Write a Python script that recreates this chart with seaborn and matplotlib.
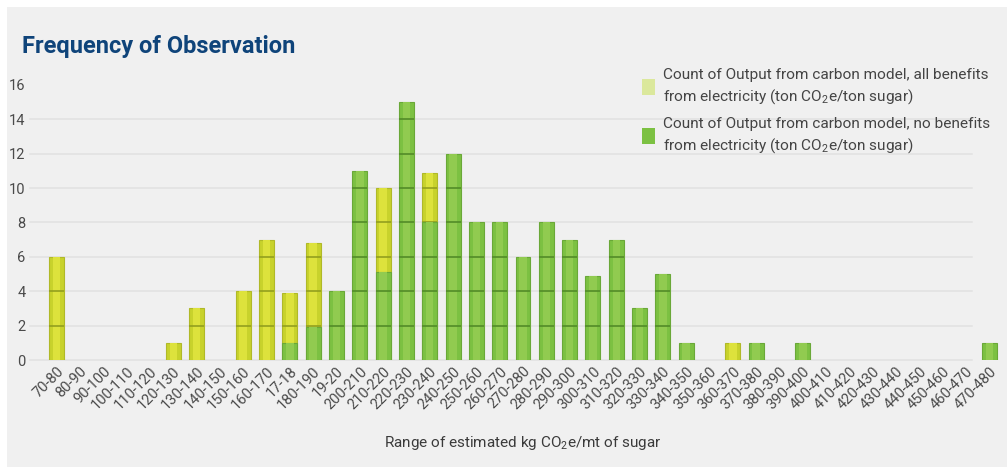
import matplotlib
matplotlib.use("Agg")
import matplotlib.pyplot as plt
from matplotlib.patches import Patch, Rectangle
import seaborn as sns
import pandas as pd

# bins of the x axis, as labelled in the source chart
categories = [
    "70-80", "80-90", "90-100", "100-110", "110-120", "120-130", "130-140",
    "140-150", "150-160", "160-170", "17-18", "180-190", "19-20", "200-210",
    "210-220", "220-230", "230-240", "240-250", "250-260", "260-270",
    "270-280", "280-290", "290-300", "300-310", "310-320", "320-330",
    "330-340", "340-350", "350-360", "360-370", "370-380", "380-390",
    "390-400", "400-410", "410-420", "420-430", "430-440", "440-450",
    "450-460", "460-470", "470-480",
]
# counts, all benefits from electricity (only the visible part of the yellow bars)
all_benefits = [
    6, 0, 0, 0, 0, 1, 3, 0, 4, 7, 3.9, 6.8, 0, 0, 10, 0, 10.9, 0, 0, 0,
    0, 0, 0, 0, 0, 0, 0, 0, 0, 1, 0, 0, 0, 0, 0, 0, 0, 0, 0, 0, 0,
]
# counts, no benefits from electricity
no_benefits = [
    0, 0, 0, 0, 0, 0, 0, 0, 0, 0, 1, 1.9, 4, 11, 5.1, 15, 8, 12, 8, 8,
    6, 8, 7, 4.9, 7, 3, 5, 1, 0, 0, 1, 0, 1, 0, 0, 0, 0, 0, 0, 0, 1,
]
y_ticks = [0, 2, 4, 6, 8, 10, 12, 14, 16]

label_all = ("Count of Output from carbon model, all benefits\n"
             "from electricity (ton CO$_2$e/ton sugar)")
label_none = ("Count of Output from carbon model, no benefits\n"
              "from electricity (ton CO$_2$e/ton sugar)")

df = pd.DataFrame({"range": categories, "all": all_benefits, "none": no_benefits})

sns.set_style("white")
plt.rcParams["font.family"] = ["Roboto", "DejaVu Sans"]
plt.rcParams["mathtext.fontset"] = "custom"
plt.rcParams["mathtext.rm"] = "Roboto"

BG = "#f0f0f0"
YELLOW = "#c8d22c"
YELLOW_LIGHT = "#dde23c"
GREEN = "#7cc142"
GREEN_LIGHT = "#91cb50"

fig = plt.figure(figsize=(10.07, 4.67), dpi=100)
fig.patch.set_facecolor("white")
fig.patches.append(Rectangle((7 / 1007, 0), 1, 1 - 7 / 467, transform=fig.transFigure,
                             facecolor=BG, edgecolor="none", zorder=-10))

ax = fig.add_axes([45 / 1007, 107 / 467, 956 / 1007, 16.3 * 17.19 / 467])
ax.set_facecolor("none")

sns.barplot(data=df, x="range", y="all", color=YELLOW, width=0.64, saturation=1,
            edgecolor="#b0b928", linewidth=0.8, ax=ax, zorder=2)
n_yellow = len(ax.patches)
sns.barplot(data=df, x="range", y="none", color=GREEN, width=0.64, saturation=1,
            edgecolor="#6aa838", linewidth=0.8, ax=ax, zorder=3)

# sugar-cane look: lighter core and a dark node every 2 units
for i, p in enumerate(ax.patches):
    h = p.get_height()
    if h <= 0:
        p.set_visible(False)
        continue
    x0, w = p.get_x(), p.get_width()
    light = YELLOW_LIGHT if i < n_yellow else GREEN_LIGHT
    node = "#939f1e" if i < n_yellow else "#528c28"
    z = p.get_zorder()
    ax.add_patch(Rectangle((x0 + w * 0.25, 0), w * 0.5, h, facecolor=light,
                           edgecolor="none", zorder=z + 0.1))
    level = 2
    while level < h - 0.15:
        ax.plot([x0, x0 + w], [level, level], color=node, lw=1.2, zorder=z + 0.2,
                solid_capstyle="butt")
        level += 2

ax.set_xlim(-0.5, len(categories) - 0.5)
ax.set_ylim(0, 16.3)
ax.set_yticks(y_ticks)
for t in y_ticks[:-1]:
    ax.axhline(t, xmin=-0.016, xmax=0.97, color="#e4e4e4", lw=1.4, zorder=0,
               clip_on=False)

ax.tick_params(axis="both", length=0, colors="#4a4a4a")
ax.tick_params(axis="y", labelsize=10.5, pad=14)
ax.tick_params(axis="x", labelsize=10.5, pad=3)
plt.setp(ax.get_xticklabels(), rotation=45, ha="right", va="top",
         rotation_mode="anchor")
for s in ax.spines.values():
    s.set_visible(False)

ax.set_ylabel("")
ax.set_xlabel("Range of estimated kg CO$_2$e/mt of sugar", fontsize=11,
              color="#3a3a3a", labelpad=16)

fig.text(22 / 1007, 1 - 46 / 467, "Frequency of Observation", fontsize=17,
         fontweight="bold", color="#0f447a", va="center", ha="left")

handles = [Patch(facecolor="#dbe89c", edgecolor="none", label=label_all),
           Patch(facecolor="#7cc142", edgecolor="none", label=label_none)]
leg = fig.legend(handles=handles, loc="upper left",
                 bbox_to_anchor=(634 / 1007, 1 - 60 / 467),
                 frameon=False, fontsize=11.1, labelcolor="#444444", handlelength=0.85,
                 handleheight=1.2, handletextpad=0.5, labelspacing=0.7, borderpad=0)
for txt in leg.get_texts():
    txt.set_linespacing(1.4)

fig.savefig("out.png", dpi=100, facecolor=fig.get_facecolor())
